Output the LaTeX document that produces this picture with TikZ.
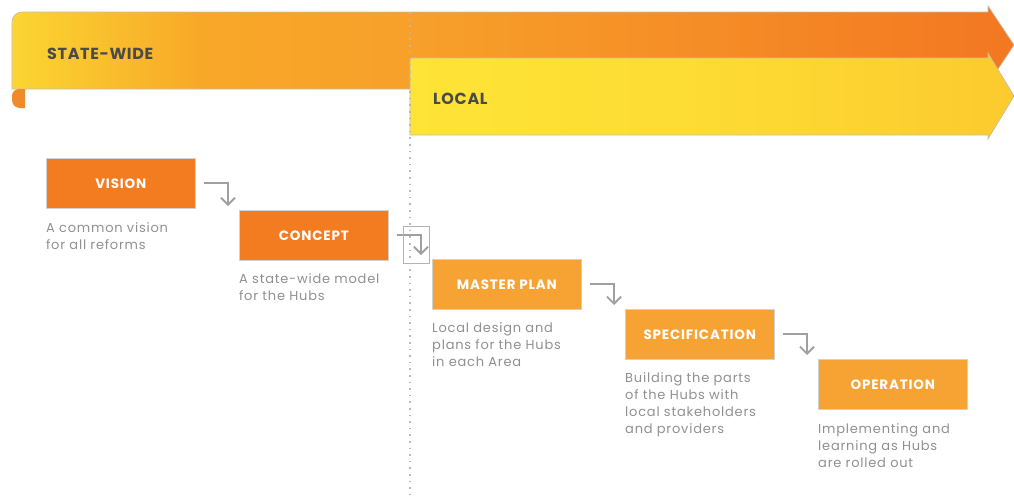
\documentclass[tikz,border=0pt]{standalone}
\usepackage{fontspec}
\setmainfont{Poppins}
\newfontfamily\descfont[LetterSpace=6]{Poppins}
\newfontfamily\labfont[LetterSpace=6]{Poppins}
\newfontfamily\bandfont[LetterSpace=4]{Poppins}
\usetikzlibrary{arrows.meta,calc}
\definecolor{swA}{HTML}{FBD532}
\definecolor{swB}{HTML}{F8A828}
\definecolor{swC}{HTML}{F7A02A}
\definecolor{swD}{HTML}{F58D26}
\definecolor{swE}{HTML}{F37822}
\definecolor{lcA}{HTML}{FEE436}
\definecolor{lcB}{HTML}{FDDB33}
\definecolor{lcC}{HTML}{FCCA2E}
\definecolor{curlc}{HTML}{F08A2A}
\definecolor{darkor}{HTML}{F37C21}
\definecolor{lightor}{HTML}{F7A333}
\definecolor{flowgray}{HTML}{A0A0A0}
\definecolor{descgray}{HTML}{909090}
\definecolor{labgray}{HTML}{4A4A4A}
\definecolor{edgec}{HTML}{C8BCA8}
\pgfdeclarehorizontalshading{statewide}{100bp}{color(0bp)=(swA); color(25bp)=(swA); color(34.4bp)=(swB); color(44.9bp)=(swC); color(59.3bp)=(swD); color(74.3bp)=(swE); color(100bp)=(swE)}
\pgfdeclarehorizontalshading{localband}{100bp}{color(0bp)=(lcA); color(25bp)=(lcA); color(50bp)=(lcB); color(75bp)=(lcC); color(100bp)=(lcC)}
\tikzset{
  stagebox/.style={rectangle, anchor=north west, minimum width=149pt, minimum height=50pt,
    inner sep=0pt, draw=black!18, line width=0.6pt, text=white,
    font=\labfont\fontsize{13.5}{15}\selectfont\bfseries},
  darkbox/.style={stagebox, fill=darkor},
  lightbox/.style={stagebox, fill=lightor},
  desc/.style={anchor=base west, align=left, inner sep=0pt, text=descgray,
    font=\descfont\fontsize{13}{17}\selectfont},
  bandlabel/.style={anchor=base west, inner sep=0pt, text=labgray,
    font=\bandfont\fontsize{16}{18}\selectfont\bfseries},
  flow/.style={draw=flowgray, line width=1.8pt, -{Straight Barb[length=7pt,width=14pt]}},
  dotline/.style={draw=black!28, line width=1.6pt, dash pattern=on 1.6pt off 5pt},
  bandedge/.style={draw=edgec, line width=0.7pt}
}
\begin{document}
\begin{tikzpicture}[x=1pt,y=-1pt]
\useasboundingbox (0,0) rectangle (1014,499);
% state-wide band
\shade[shading=statewide, bandedge] (12,89) -- (12,22) .. controls (12,16.5) and (16.5,12) .. (22,12)
  -- (988,12) -- (988,6) -- (1014,45) -- (988,84) -- (988,89) -- cycle;
\fill[curlc] (25,89) -- (19,89) .. controls (15.1,89) and (12,92.1) .. (12,96) -- (12,100)
  .. controls (12,104.4) and (15.6,108) .. (20,108) -- (25,108) -- cycle;
% local band
\shade[shading=localband, bandedge] (410,58) -- (988,58) -- (988,53) -- (1014,96)
  -- (988,139) -- (988,135) -- (410,135) -- cycle;
\node[bandlabel] (statewide) at (47,59) {STATE-WIDE};
\node[bandlabel] (local) at (433,104) {LOCAL};
% dotted divider
\coordinate (divtop) at (410,12);
\coordinate (divbot) at (410,499);
\draw[dotline] (divtop) -- (divbot);
% stages
\node[darkbox] (vision) at (46,158) {VISION};
\node[darkbox] (concept) at (239,210) {CONCEPT};
\node[lightbox] (master) at (432,259) {MASTER PLAN};
\node[lightbox] (spec) at (625,309) {SPECIFICATION};
\node[lightbox] (oper) at (818,359) {OPERATION};
% descriptions (base anchor = baseline of the last line)
\node[desc] (visiond) at (46,249) {A common vision\\for all reforms};
\node[desc] (conceptd) at (239,300) {A state-wide model\\for the Hubs};
\node[desc] (masterd) at (432,366) {Local design and\\plans for the Hubs\\in each Area};
\node[desc] (specd) at (625,433) {Building the parts\\of the Hubs with\\local stakeholders\\and providers};
\node[desc] (operd) at (818,467) {Implementing and\\learning as Hubs\\are rolled out};
% connectors
\draw[flow] ($(vision.east)+(8,0)$) -| ($(concept.north west)+(-11,-4)$);
\draw[flow] ($(concept.east)+(8,0)$) -| ($(master.north west)+(-11,-4)$);
\draw[flow] ($(master.east)+(8,0)$) -| ($(spec.north west)+(-11,-4)$);
\draw[flow] ($(spec.east)+(8,0)$) -| ($(oper.north west)+(-11,-4)$);
% frame around the concept-master connector
\draw[draw=black!30, line width=0.9pt] (403,226) rectangle (429,263);
\end{tikzpicture}
\end{document}
